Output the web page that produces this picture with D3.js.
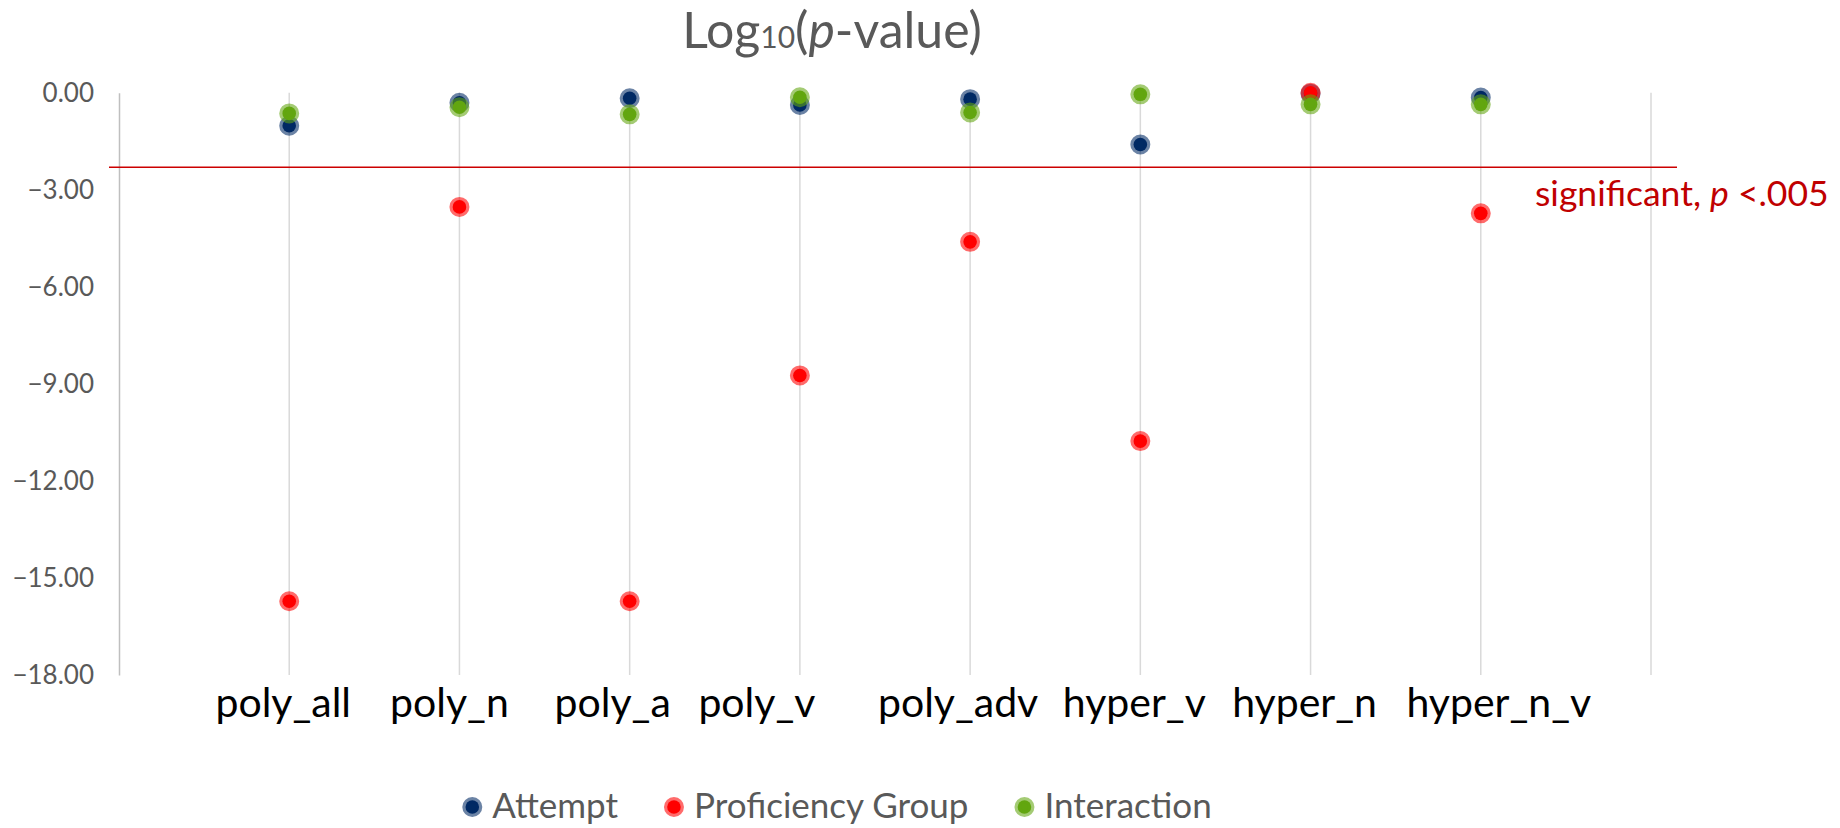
<!DOCTYPE html>
<html>
<head>
<meta charset="utf-8">
<script src="https://cdn.jsdelivr.net/npm/d3@7"></script>
<style>
  html, body { margin: 0; padding: 0; background: #ffffff; }
  svg { display: block; font-family: Lato, "Open Sans", sans-serif; }
</style>
</head>
<body>
<svg id="chart" width="1840" height="828"></svg>
<script>
// Tests, one per column
const categories = ["poly_all", "poly_n", "poly_a", "poly_v", "poly_adv", "hyper_v", "hyper_n", "hyper_n_v"];

// log10(p) per test, one array per effect
const attempt     = [-1.02, -0.31, -0.17, -0.38, -0.20, -1.60, -0.03, -0.15];
const proficiency = [-15.72, -3.53, -15.72, -8.74, -4.61, -10.77, 0.00, -3.73];
const interaction = [-0.64, -0.45, -0.67, -0.14, -0.61, -0.05, -0.36, -0.36];

const seriesNames = ["Attempt", "Proficiency Group", "Interaction"];
const yTicks = [0, -3, -6, -9, -12, -15, -18];
const threshold = Math.log10(0.005);   // p < .005
const thresholdLabel = "significant, ";

// horizontal shift of each category label (px)
const labelShift = [-6, -10, -17, -43, -12, -6, -6, 18];

const colors = {
  "Attempt": "#002a64",
  "Proficiency Group": "#ff0000",
  "Interaction": "#62a60f"
};

const series = [
  { name: seriesNames[0], values: attempt },
  { name: seriesNames[1], values: proficiency },
  { name: seriesNames[2], values: interaction }
];

const svg = d3.select("#chart");

const x = d3.scaleLinear().domain([0, categories.length + 1]).range([119, 1651]);
const y = d3.scaleLinear().domain([-18, 0]).range([675, 92.7]);

// vertical gridlines at each whole x step
const gridVals = d3.range(1, categories.length + 2);
svg.append("g")
  .selectAll("line")
  .data(gridVals)
  .join("line")
  .attr("x1", d => x(d)).attr("x2", d => x(d))
  .attr("y1", y(0)).attr("y2", y(-18))
  .attr("stroke", "#d9d9d9")
  .attr("stroke-width", 1.5);

// value axis
const yAxis = d3.axisLeft(y)
  .tickValues(yTicks)
  .tickSize(0)
  .tickPadding(25)
  .tickFormat(d3.format(".2f"));

const gy = svg.append("g")
  .attr("transform", `translate(${x(0)},0)`)
  .call(yAxis);
gy.select(".domain").attr("stroke", "#bfbfbf").attr("stroke-width", 1.5);
gy.selectAll("text")
  .attr("fill", "#595959")
  .attr("font-size", 26)
  .attr("font-family", "Lato, sans-serif");

// significance threshold
svg.append("line")
  .attr("x1", x(0) - 10).attr("x2", x(categories.length + 1) + 26)
  .attr("y1", y(threshold)).attr("y2", y(threshold))
  .attr("stroke", "#cc0000")
  .attr("stroke-width", 1.5);

const sig = svg.append("text")
  .attr("x", 1535)
  .attr("y", 206)
  .attr("fill", "#c00000")
  .attr("font-size", 35.5);
sig.append("tspan").text(thresholdLabel);
sig.append("tspan").attr("font-style", "italic").text("p");
sig.append("tspan").text(" <.005");

// category labels
svg.append("g")
  .selectAll("text")
  .data(categories)
  .join("text")
  .attr("x", (d, i) => x(i + 1) + labelShift[i])
  .attr("y", 717)
  .attr("text-anchor", "middle")
  .attr("fill", "#000000")
  .attr("font-size", 41)
  .text(d => d);

// markers
function marker(sel, color) {
  sel.attr("r", 6.8)
    .attr("fill", color)
    .attr("stroke", color)
    .attr("stroke-width", 6.4)
    .attr("stroke-opacity", 0.58);
}

series.forEach(s => {
  svg.append("g")
    .selectAll("circle")
    .data(s.values)
    .join("circle")
    .attr("cx", (d, i) => x(i + 1))
    .attr("cy", d => y(d))
    .call(marker, colors[s.name]);
});

// title
const title = svg.append("text")
  .attr("x", 832)
  .attr("y", 48)
  .attr("text-anchor", "middle")
  .attr("fill", "#595959")
  .attr("font-size", 50);
title.append("tspan").text("Log");
title.append("tspan").attr("font-size", 30).text("10");
title.append("tspan").text("(");
title.append("tspan").attr("font-style", "italic").text("p");
title.append("tspan").text("-value)");

// legend
const legend = svg.append("g");
const gap = 56;
let cursor = 0;
seriesNames.forEach(name => {
  const g = legend.append("g");
  g.append("circle").attr("cx", 0).attr("cy", -11).call(marker, colors[name]);
  const t = g.append("text")
    .attr("x", 20)
    .attr("y", 0)
    .attr("fill", "#595959")
    .attr("font-size", 35)
    .text(name);
  const w = t.node().getComputedTextLength();
  g.attr("transform", `translate(${cursor},0)`);
  cursor += 20 + w + gap;
});
const legendWidth = cursor - gap + 10;
legend.attr("transform", `translate(${837 - legendWidth / 2 + 10},818)`);
</script>
</body>
</html>
